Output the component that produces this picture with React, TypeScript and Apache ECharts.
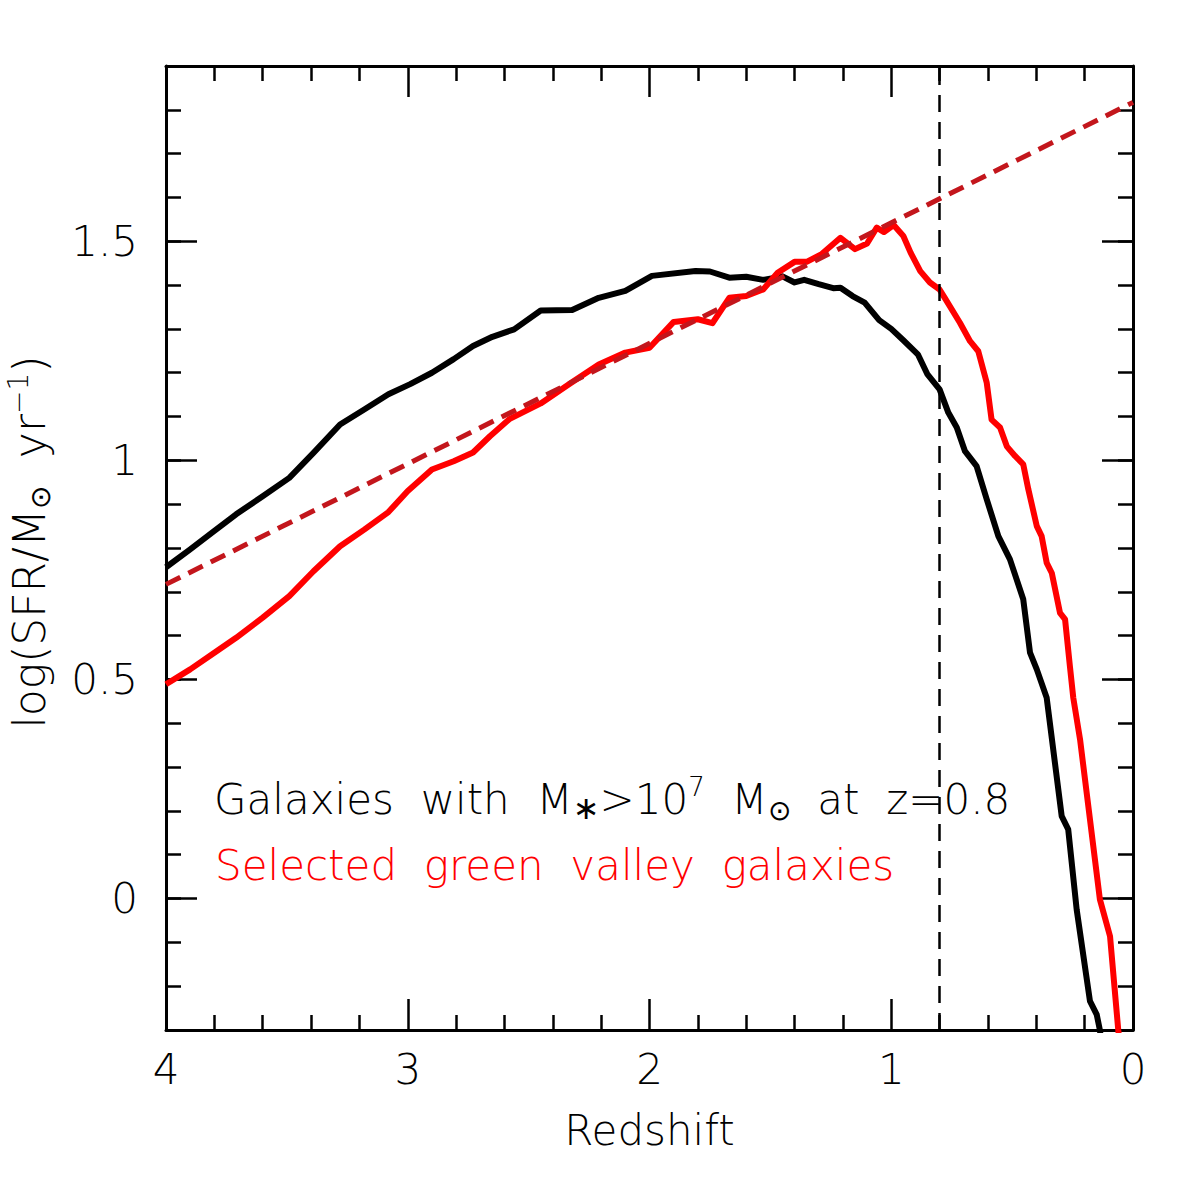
import React, { useEffect, useRef } from "react";
import * as echarts from "echarts";

// Redshift (z) and log(SFR) readings for the black curve (all galaxies)
const blackZ = [4.0, 3.9, 3.8, 3.71, 3.6, 3.49, 3.39, 3.28, 3.18, 3.08, 2.99, 2.9, 2.81, 2.73, 2.65, 2.56, 2.45, 2.32, 2.21, 2.1, 1.99, 1.81, 1.75, 1.67, 1.6, 1.53, 1.45, 1.4, 1.36, 1.3, 1.24, 1.21, 1.16, 1.11, 1.05, 1.0, 0.95, 0.89, 0.85, 0.8, 0.764, 0.729, 0.695, 0.647, 0.605, 0.557, 0.509, 0.454, 0.426, 0.398, 0.357, 0.295, 0.268, 0.233, 0.178, 0.15, 0.137, 0.13];
const blackV = [0.756, 0.797, 0.839, 0.877, 0.918, 0.96, 1.017, 1.082, 1.116, 1.151, 1.174, 1.2, 1.231, 1.261, 1.282, 1.299, 1.342, 1.343, 1.371, 1.387, 1.421, 1.432, 1.431, 1.417, 1.419, 1.412, 1.42, 1.406, 1.412, 1.402, 1.393, 1.394, 1.375, 1.36, 1.32, 1.3, 1.274, 1.242, 1.196, 1.162, 1.109, 1.075, 1.021, 0.987, 0.911, 0.827, 0.774, 0.683, 0.561, 0.523, 0.458, 0.188, 0.158, -0.025, -0.234, -0.265, -0.3, -0.33];

// Selected green valley galaxies (red curve)
const redZ = [4.0, 3.9, 3.8, 3.71, 3.6, 3.49, 3.39, 3.28, 3.18, 3.08, 3.0, 2.9, 2.81, 2.73, 2.66, 2.58, 2.45, 2.33, 2.21, 2.1, 2.0, 1.9, 1.8, 1.74, 1.67, 1.6, 1.53, 1.47, 1.4, 1.35, 1.29, 1.21, 1.15, 1.1, 1.06, 1.03, 0.99, 0.95, 0.92, 0.88, 0.84, 0.8, 0.78, 0.716, 0.674, 0.64, 0.605, 0.585, 0.55, 0.522, 0.488, 0.454, 0.433, 0.398, 0.378, 0.357, 0.336, 0.302, 0.281, 0.261, 0.247, 0.219, 0.137, 0.095, 0.061, 0.055];
const redV = [0.489, 0.523, 0.561, 0.595, 0.641, 0.69, 0.747, 0.804, 0.842, 0.882, 0.93, 0.979, 0.998, 1.018, 1.055, 1.094, 1.13, 1.175, 1.219, 1.246, 1.257, 1.316, 1.322, 1.313, 1.371, 1.375, 1.39, 1.428, 1.453, 1.453, 1.47, 1.508, 1.482, 1.495, 1.531, 1.521, 1.537, 1.512, 1.474, 1.432, 1.406, 1.39, 1.372, 1.314, 1.272, 1.249, 1.177, 1.093, 1.075, 1.032, 1.01, 0.991, 0.934, 0.85, 0.827, 0.766, 0.743, 0.652, 0.637, 0.53, 0.458, 0.363, -0.002, -0.086, -0.3, -0.33];

// Dashed trend line end points
const trendZ = [4.0, 0.0];
const trendV = [0.717, 1.817];

// Vertical marker at z = 0.8
const markerZ = 0.8;

// Axis ranges / ticks
const xMin = 0;
const xMax = 4;
const yMin = -0.3;
const yMax = 1.9;
const yMajorTicks = [0, 0.5, 1, 1.5];

const FONT = "'DejaVu Sans', 'Open Sans', sans-serif";
const W = 200;

export default function App() {
  const ref = useRef<HTMLDivElement>(null);

  useEffect(() => {
    const chart = echarts.init(ref.current!, null, { renderer: "svg" });
    const pair = (zs: number[], vs: number[]) => zs.map((z, i) => [z, vs[i]]);

    const lineCol = "#000";
    const gridRect = {
      left: 166,
      right: 63,
      top: 66,
      bottom: 166,
      containLabel: false,
      outerBoundsMode: "none",
    };

    const xAxisBase = (pos: "top" | "bottom", labels: boolean) => ({
      type: "value",
      gridIndex: 0,
      position: pos,
      min: xMin,
      max: xMax,
      interval: 1,
      inverse: true,
      splitLine: { show: false },
      axisLine: { show: true, onZero: false, lineStyle: { color: lineCol, width: 3 } },
      axisTick: { show: true, inside: true, length: 31, lineStyle: { color: lineCol, width: 2.5 } },
      minorTick: { show: true, splitNumber: 5, length: 15, lineStyle: { color: lineCol, width: 2.5 } },
      axisLabel: {
        show: labels,
        margin: 18,
        color: "#000",
        fontFamily: FONT,
        fontWeight: W,
        fontSize: 42,
      },
    });

    const yMinorAxis = (pos: "left" | "right", labels: boolean) => ({
      type: "value",
      gridIndex: 0,
      position: pos,
      min: yMin,
      max: yMax,
      interval: 0.1,
      splitLine: { show: false },
      axisLine: { show: true, onZero: false, lineStyle: { color: lineCol, width: 3 } },
      axisTick: { show: true, inside: true, length: 15, lineStyle: { color: lineCol, width: 2.5 } },
      axisLabel: {
        show: labels,
        customValues: yMajorTicks,
        margin: 28,
        color: "#000",
        fontFamily: FONT,
        fontWeight: W,
        fontSize: 42,
      },
    });

    const yMajorAxis = (pos: "left" | "right") => ({
      type: "value",
      gridIndex: 1,
      position: pos,
      min: yMin,
      max: yMax,
      splitLine: { show: false },
      axisLine: { show: false, onZero: false },
      axisTick: {
        show: true,
        inside: true,
        length: 31,
        customValues: yMajorTicks,
        lineStyle: { color: lineCol, width: 2.5 },
      },
      axisLabel: { show: false },
    });

    const option: any = {
      animation: false,
      backgroundColor: "#fff",
      grid: [gridRect, { ...gridRect }],
      xAxis: [
        {
          ...xAxisBase("bottom", true),
          name: "Redshift",
          nameLocation: "middle",
          nameGap: 76,
          nameTextStyle: { color: "#000", fontFamily: FONT, fontWeight: W, fontSize: 42, lineHeight: 48 },
        },
        xAxisBase("top", false),
        {
          type: "value",
          gridIndex: 1,
          min: xMin,
          max: xMax,
          inverse: true,
          show: false,
          axisLine: { onZero: false },
        },
      ],
      yAxis: [
        {
          ...yMinorAxis("left", true),
          name: "log(SFR/M{o|⊙}  yr{p|−1})",
          nameLocation: "middle",
          nameGap: 112,
          nameTextStyle: {
            color: "#000",
            fontFamily: FONT,
            fontWeight: W,
            fontSize: 44,
            lineHeight: 50,
            padding: [0, 0, 0, 12],
            rich: {
              o: { fontFamily: FONT, fontWeight: W, fontSize: 28, lineHeight: 18, verticalAlign: "bottom", color: "#000" },
              p: { fontFamily: FONT, fontWeight: W, fontSize: 28, lineHeight: 24, verticalAlign: "top", color: "#000" },
            },
          },
        },
        yMinorAxis("right", false),
        yMajorAxis("left"),
        yMajorAxis("right"),
      ],
      series: [
        {
          type: "line",
          name: "All galaxies",
          xAxisIndex: 0,
          yAxisIndex: 0,
          data: pair(blackZ, blackV),
          showSymbol: false,
          symbol: "none",
          clip: true,
          lineStyle: { color: "#000", width: 6, join: "round" },
          markLine: {
            silent: true,
            symbol: "none",
            label: { show: false },
            lineStyle: { color: "#000", width: 2.5, type: [17, 10] },
            data: [{ xAxis: markerZ }],
          },
        },
        {
          type: "line",
          name: "Green valley",
          xAxisIndex: 0,
          yAxisIndex: 0,
          data: pair(redZ, redV),
          showSymbol: false,
          symbol: "none",
          clip: true,
          lineStyle: { color: "#ff0000", width: 6, join: "round" },
        },
        {
          type: "line",
          name: "Trend",
          xAxisIndex: 0,
          yAxisIndex: 0,
          data: pair(trendZ, trendV),
          showSymbol: false,
          symbol: "none",
          clip: true,
          lineStyle: { color: "#c3161c", width: 5, type: [16, 9] },
        },
      ],
      graphic: [
        {
          type: "text",
          left: 214,
          top: 774,
          style: {
            text: "Galaxies  with  M{s|∗}>10{p|7}  M{o|⊙}  at  z=0.8",
            fill: "#000",
            fontFamily: FONT,
            fontWeight: W,
            fontSize: 42,
            lineHeight: 50,
            rich: {
              s: { fontFamily: "'DejaVu Sans', sans-serif", fontWeight: 400, fontSize: 32, lineHeight: 12, verticalAlign: "bottom", fill: "#000" },
              p: { fontFamily: FONT, fontWeight: W, fontSize: 26, lineHeight: 28, verticalAlign: "top", fill: "#000" },
              o: { fontFamily: FONT, fontWeight: W, fontSize: 28, lineHeight: 16, verticalAlign: "bottom", fill: "#000" },
            },
          },
        },
        {
          type: "text",
          left: 215,
          top: 840,
          style: {
            text: "Selected  green  valley  galaxies",
            fill: "#ff0000",
            fontFamily: FONT,
            fontWeight: W,
            fontSize: 42,
            lineHeight: 50,
          },
        },
      ],
    };

    chart.setOption(option);
    return () => chart.dispose();
  }, []);

  return (
    <div
      ref={ref}
      style={{ position: "fixed", left: 0, top: 0, width: 1196, height: 1196, background: "#fff" }}
    />
  );
}
